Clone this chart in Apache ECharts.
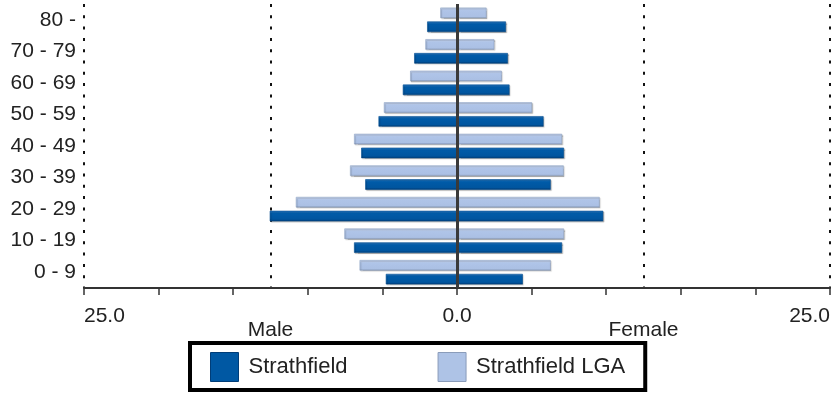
<!DOCTYPE html>
<html>
<head>
<meta charset="utf-8">
<script src="https://cdn.jsdelivr.net/npm/echarts@6/dist/echarts.min.js"></script>
<style>
html,body{margin:0;padding:0;background:#fff;}
#chart{width:833px;height:394px;}
</style>
</head>
<body>
<div id="chart"></div>
<script>
// Age groups (bottom to top)
const categories = ['0 - 9','10 - 19','20 - 29','30 - 39','40 - 49','50 - 59','60 - 69','70 - 79','80 -'];
// Percent values
const strathfieldMale   = [4.77, 6.90, 12.55, 6.15, 6.42, 5.26, 3.63, 2.87, 2.00];
const strathfieldFemale = [4.41, 7.04, 9.80, 6.28, 7.17, 5.80, 3.52, 3.41, 3.28];
const lgaMale           = [6.53, 7.55, 10.80, 7.17, 6.90, 4.90, 3.14, 2.12, 1.12];
const lgaFemale         = [6.28, 7.17, 9.56, 7.15, 7.04, 5.03, 3.00, 2.50, 1.98];
// Tick labels at -25, -12.5, 0, 12.5, 25
const xTickLabels = ['25.0', '', '0.0', '', '25.0'];
const sexLabels   = ['', 'Male', '', 'Female', ''];
const seriesNames = ['Strathfield', 'Strathfield LGA'];

const FONT = 'Liberation Sans';
const darkFill = {type:'linear', x:0, y:0, x2:0, y2:1, colorStops:[
  {offset:0, color:'#2f82cf'}, {offset:0.25, color:'#005ba8'}, {offset:0.8, color:'#00559f'}, {offset:1, color:'#003b74'}]};
const lightFill = {type:'linear', x:0, y:0, x2:0, y2:1, colorStops:[
  {offset:0, color:'#c9d7f0'}, {offset:0.3, color:'#afc4e8'}, {offset:0.85, color:'#abc0e4'}, {offset:1, color:'#8799b8'}]};

function barSeries(name, stack, data, fill, edge, extra) {
  return Object.assign({
    name: name, type: 'bar', stack: stack, data: data,
    xAxisIndex: 0, yAxisIndex: 0,
    barWidth: 10.5, barGap: '32%',
    itemStyle: {color: fill, borderColor: edge, borderWidth: 0.6,
      shadowColor: 'rgba(0,0,0,0.25)', shadowOffsetX: 1, shadowOffsetY: 1, shadowBlur: 1},
    emphasis: {disabled: true}
  }, extra || {});
}

const chart = echarts.init(document.getElementById('chart'), null, {renderer: 'canvas'});
chart.setOption({
  animation: false,
  backgroundColor: '#ffffff',
  textStyle: {fontFamily: FONT},
  grid: {left: 84, right: 1, top: 4, bottom: 106, containLabel: false},
  legend: {
    left: 190, top: 343,
    orient: 'horizontal',
    padding: [9, 20, 8, 20],
    borderColor: '#000', borderWidth: 4,
    itemWidth: 28, itemHeight: 29, itemGap: 90,
    icon: 'rect',
    selectedMode: false,
    textStyle: {fontFamily: FONT, fontSize: 22, color: '#222', padding: [0, 0, 0, 5]},
    data: [
      {name: seriesNames[0], itemStyle: {color: '#0058a3', borderColor: '#003d78', borderWidth: 1}},
      {name: seriesNames[1], itemStyle: {color: '#aec3e6', borderColor: '#8a9cba', borderWidth: 1}}
    ]
  },
  xAxis: [
    {
      type: 'value', position: 'bottom', min: -25, max: 25, interval: 12.5,
      axisLine: {show: false}, axisTick: {show: false},
      splitLine: {show: true, lineStyle: {color: '#111', width: 2, type: [3, 8.3]}},
      axisLabel: {
        show: true, margin: 18, fontFamily: FONT, fontSize: 21, color: '#222',
        showMinLabel: true, showMaxLabel: true,
        alignMinLabel: 'left', alignMaxLabel: 'right',
        formatter: function (v, i) { return xTickLabels[i] || ''; }
      }
    },
    {
      type: 'value', position: 'bottom', min: -25, max: 25, interval: 5,
      axisLine: {show: true, onZero: false, lineStyle: {color: '#333', width: 2}},
      axisTick: {show: true, length: 7, lineStyle: {color: '#333', width: 1.5}},
      splitLine: {show: false},
      axisLabel: {show: false}
    },
    {
      type: 'value', position: 'bottom', min: -25, max: 25, interval: 12.5,
      axisLine: {show: false}, axisTick: {show: false}, splitLine: {show: false},
      axisLabel: {
        show: true, margin: 32, fontFamily: FONT, fontSize: 21, color: '#222',
        formatter: function (v, i) { return sexLabels[i] || ''; }
      }
    }
  ],
  yAxis: [{
    type: 'category', data: categories,
    axisLine: {show: false}, axisTick: {show: false}, splitLine: {show: false},
    axisLabel: {margin: 8, fontFamily: FONT, fontSize: 21, color: '#222'}
  }],
  series: [
    // LGA first so that it sits above the Strathfield bar in each group
    barSeries(seriesNames[1], 'lga', lgaMale.map(function (v) { return -v; }), lightFill, '#8fa2c2'),
    barSeries(seriesNames[1], 'lga', lgaFemale, lightFill, '#8fa2c2'),
    barSeries(seriesNames[0], 'strath', strathfieldMale.map(function (v) { return -v; }), darkFill, '#004a8c'),
    barSeries(seriesNames[0], 'strath', strathfieldFemale, darkFill, '#004a8c', {
      markLine: {
        silent: true, symbol: ['none', 'none'], label: {show: false},
        lineStyle: {color: '#3a3a3a', type: 'solid', width: 3},
        emphasis: {disabled: true},
        data: [{xAxis: 0}]
      }
    })
  ]
});
</script>
</body>
</html>
